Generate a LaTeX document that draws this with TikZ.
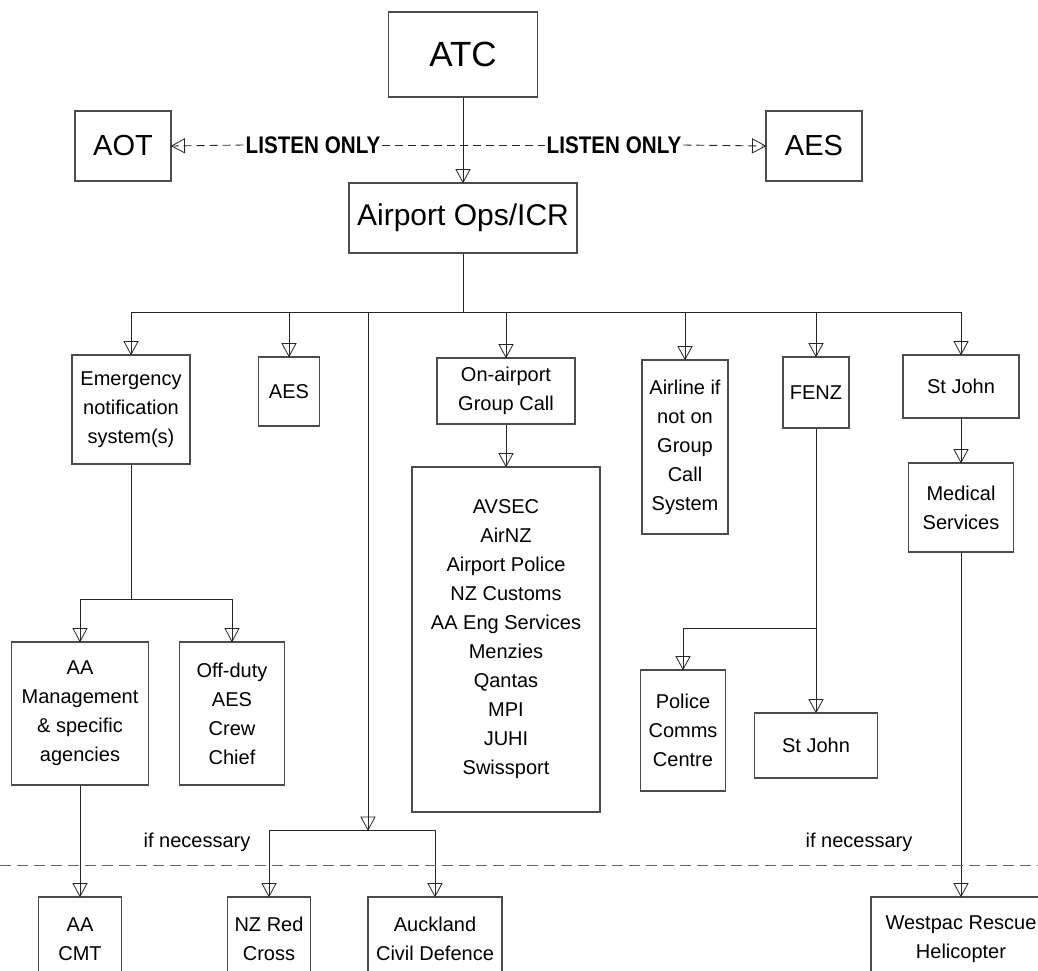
\documentclass[tikz,border=0pt]{standalone}
\usepackage{fontspec}
\setmainfont{Liberation Sans}
\newfontfamily\lofont[FakeStretch=0.86]{Liberation Sans}
\usetikzlibrary{decorations.markings}
\tikzset{
 bx/.style={draw=black!70, line width=1.1pt, inner sep=0pt, align=center, font=\fontsize{20}{29}\selectfont, text=black},
 ln/.style={draw=black!85, line width=0.9pt},
 arr/.style={ln, postaction={decorate}, decoration={markings, mark=at position 1 with {\draw[solid, black!85, line width=0.8pt] (0,0) -- (-13pt,7pt) -- (-13pt,-7pt) -- cycle;}}},
 lbl/.style={font=\fontsize{20}{24}\selectfont, inner sep=0pt},
 lo/.style={font=\lofont\bfseries\fontsize{24}{26}\selectfont, inner xsep=2pt, inner ysep=0pt},
 dsh/.style={dash pattern=on 8pt off 5pt},
}
\begin{document}
\begin{tikzpicture}[x=1pt,y=-1pt]
\useasboundingbox (0,0) rectangle (1038,970);
\clip (0,0) rectangle (1038,970);
\fill[white] (0,0) rectangle (1038,970);
% top
\node[bx, minimum width=149pt, minimum height=85pt, font=\fontsize{35}{40}\selectfont] (atc) at (463,54.5) {ATC};
\node[bx, minimum width=96pt, minimum height=70pt, font=\fontsize{29}{34}\selectfont] (aot) at (123,146) {AOT};
\node[bx, minimum width=96pt, minimum height=70pt, font=\fontsize{29}{34}\selectfont] (aes1) at (814,146) {AES};
\node[bx, minimum width=228pt, minimum height=70pt, font=\fontsize{30}{34}\selectfont] (ops) at (463,218) {Airport Ops/ICR};
\node[lo] (lis1) at (313,145) {LISTEN ONLY};
\node[lo] (lis2) at (614,145) {LISTEN ONLY};
% second row
\node[bx, minimum width=118pt, minimum height=109pt] (emerg) at (131,409.5) {Emergency\\notification\\system(s)};
\node[bx, minimum width=61pt, minimum height=69pt] (aes2) at (289,391.5) {AES};
\node[bx, minimum width=138pt, minimum height=66pt] (onair) at (506,391) {On-airport\\Group Call};
\node[bx, minimum width=86pt, minimum height=174pt] (airline) at (685,447) {Airline if\\not on\\Group\\Call\\System};
\node[bx, minimum width=66pt, minimum height=71pt] (fenz) at (816,392.5) {FENZ};
\node[bx, minimum width=116pt, minimum height=63pt] (stjohn1) at (961,386.5) {St John};
\node[bx, minimum width=105pt, minimum height=89pt] (medical) at (961,507.5) {Medical\\Services};
\node[bx, minimum width=188pt, minimum height=345pt] (list) at (506,639.5) {AVSEC\\AirNZ\\Airport Police\\NZ Customs\\AA Eng Services\\Menzies\\Qantas\\MPI\\JUHI\\Swissport};
\node[bx, minimum width=137pt, minimum height=143pt] (aamgmt) at (80,713.5) {AA\\Management\\\& specific\\agencies};
\node[bx, minimum width=105pt, minimum height=143pt] (offduty) at (232,713.5) {Off-duty\\AES\\Crew\\Chief};
\node[bx, minimum width=85pt, minimum height=121pt] (police) at (683,730.5) {Police\\Comms\\Centre};
\node[bx, minimum width=123pt, minimum height=65pt] (stjohn2) at (816,745.5) {St John};
% bottom row
\node[bx, minimum width=83pt, minimum height=84pt] (aacmt) at (80,939) {AA\\CMT};
\node[bx, minimum width=83pt, minimum height=84pt] (redcross) at (269,939) {NZ Red\\Cross};
\node[bx, minimum width=134pt, minimum height=84pt] (civdef) at (435,939) {Auckland\\Civil Defence};
\node[bx, minimum width=180pt, minimum height=84pt] (westpac) at (961,939) {Westpac Rescue\\Helicopter};
\node[lbl] (ifn1) at (197,842) {if necessary};
\node[lbl] (ifn2) at (859,842) {if necessary};
% coordinates
\coordinate (busL) at (131,312);
\coordinate (busR) at (961,312);
\coordinate (j3) at (368,312);
\coordinate (j3b) at (368,830);
\coordinate (ej) at (131,599);
\coordinate (fj) at (816,628);
\coordinate (dl) at (0,865);
\coordinate (dr) at (1038,865);
% listen only
\draw[ln, dsh, arr] (lis1.west) -- (aot.east);
\draw[ln, dsh] (lis1.east) -- (lis2.west);
\draw[ln, dsh, arr] (lis2.east) -- (aes1.west);
% main
\draw[arr] (atc.south) -- (ops.north);
\draw[ln] (ops.south) -- (ops.south |- busL);
\draw[ln] (busL) -- (busR);
\draw[arr] (emerg.north |- busL) -- (emerg.north);
\draw[arr] (aes2.north |- busL) -- (aes2.north);
\draw[arr] (onair.north |- busL) -- (onair.north);
\draw[arr] (airline.north |- busL) -- (airline.north);
\draw[arr] (fenz.north |- busL) -- (fenz.north);
\draw[arr] (stjohn1.north |- busL) -- (stjohn1.north);
\draw[arr] (j3) -- (j3b);
\draw[ln] (redcross.north |- j3b) -- (civdef.north |- j3b);
\draw[arr] (redcross.north |- j3b) -- (redcross.north);
\draw[arr] (civdef.north |- j3b) -- (civdef.north);
\draw[arr] (onair.south) -- (list.north);
\draw[arr] (stjohn1.south) -- (medical.north);
\draw[arr] (medical.south) -- (westpac.north);
\draw[ln] (emerg.south) -- (ej);
\draw[ln] (aamgmt.north |- ej) -- (offduty.north |- ej);
\draw[arr] (aamgmt.north |- ej) -- (aamgmt.north);
\draw[arr] (offduty.north |- ej) -- (offduty.north);
\draw[arr] (aamgmt.south) -- (aacmt.north);
\draw[arr] (fenz.south) -- (stjohn2.north);
\draw[ln] (fj) -- (police.north |- fj);
\draw[arr] (police.north |- fj) -- (police.north);
% dashed separator
\draw[draw=black!60, line width=1pt, dash pattern=on 11pt off 6pt] (dl) -- (dr);
\end{tikzpicture}
\end{document}
